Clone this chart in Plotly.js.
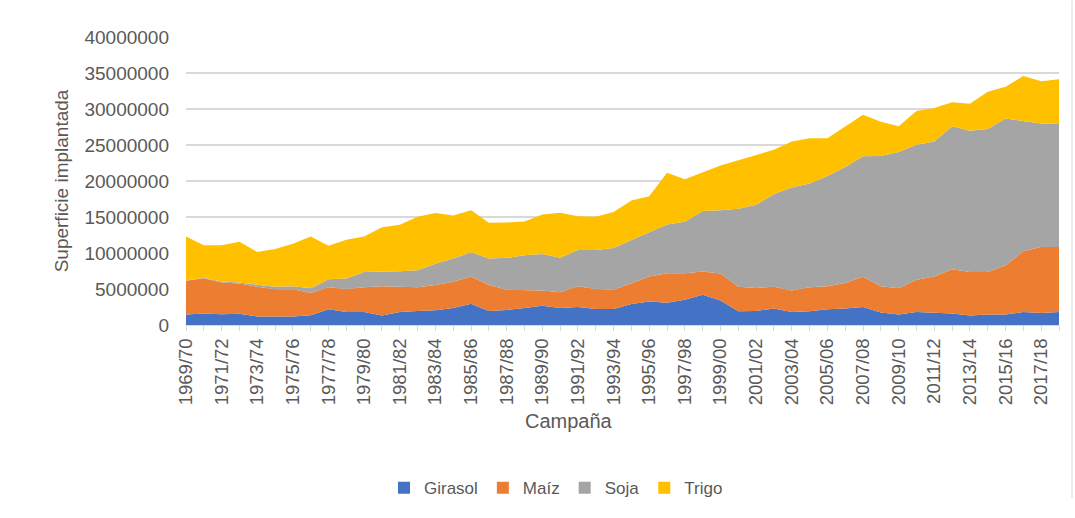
<!DOCTYPE html>
<html>
<head>
<meta charset="utf-8">
<script src="https://cdn.plot.ly/plotly-3.0.1.min.js"></script>
<style>
html,body{margin:0;padding:0;background:#fff;}
#chart{width:1075px;height:518px;}
</style>
</head>
<body>
<div id="chart"></div>
<script>
// Campañas 1969/70 – 2018/19
const campanas = [];
for (let y = 1969; y <= 2018; y++) {
  campanas.push(y + "/" + String((y + 1) % 100).padStart(2, "0"));
}

// Superficie implantada (ha), valores estimados del gráfico
const girasol = [1460000,1590000,1500000,1550000,1180000,1150000,1180000,1370000,2180000,1820000,
                 1820000,1320000,1820000,1960000,2050000,2370000,2960000,1960000,2090000,2370000,
                 2690000,2370000,2500000,2230000,2230000,2900000,3280000,3100000,3500000,4190000,
                 3410000,1910000,1960000,2280000,1820000,1910000,2180000,2280000,2500000,1730000,
                 1460000,1820000,1680000,1590000,1320000,1460000,1460000,1820000,1680000,1820000];
const maiz    = [4680000,4920000,4420000,4230000,4140000,3810000,3780000,3090000,3050000,3180000,
                 3410000,4050000,3500000,3270000,3500000,3630000,3770000,3590000,2820000,2500000,
                 2090000,2180000,2870000,2770000,2680000,2900000,3450000,4090000,3690000,3230000,
                 3730000,3410000,3180000,3040000,2960000,3320000,3190000,3550000,4190000,3640000,
                 3640000,4460000,5050000,6150000,6050000,5910000,6820000,8420000,9150000,9010000];
const soja    = [30000,40000,130000,140000,280000,360000,410000,640000,1140000,1460000,
                 2140000,2000000,2140000,2370000,2960000,3240000,3370000,3690000,4420000,4820000,
                 5090000,4780000,5050000,5420000,5780000,6000000,6100000,6780000,7140000,8420000,
                 8790000,10840000,11560000,12880000,14330000,14430000,15340000,16110000,16750000,18110000,
                 18930000,18750000,18760000,19880000,19620000,19840000,20390000,18060000,17160000,17070000];
const trigo   = [6120000,4510000,5010000,5640000,4550000,5240000,5920000,7190000,4640000,5370000,
                 4920000,6190000,6460000,7420000,7050000,5960000,5830000,4960000,4910000,4690000,
                 5460000,6270000,4690000,4600000,5010000,5490000,5050000,7190000,5920000,5410000,
                 6230000,6730000,6960000,6140000,6380000,6280000,5230000,5600000,5770000,4740000,
                 3590000,4690000,4640000,3330000,3730000,5190000,4410000,6280000,5870000,6230000];

const seriesNames  = ["Girasol", "Maíz", "Soja", "Trigo"];
const seriesValues = [girasol, maiz, soja, trigo];
const seriesColors = ["#4472C4", "#ED7D31", "#A5A5A5", "#FFC000"];

const xIdx = campanas.map((c, i) => i);
const tickIdx = xIdx.filter(i => i % 2 === 0);
const tickTxt = tickIdx.map(i => campanas[i]);

const traces = seriesNames.map((n, k) => ({
  type: "scatter",
  mode: "lines",
  name: n,
  x: xIdx,
  y: seriesValues[k],
  customdata: campanas,
  hovertemplate: "%{customdata}: %{y}<extra>" + n + "</extra>",
  stackgroup: "one",
  line: {width: 0, color: seriesColors[k]},
  fillcolor: seriesColors[k],
  showlegend: false
}));
// legend entries with square keys, as in the original
seriesNames.forEach((n, k) => traces.push({
  type: "scatter", mode: "markers", name: n, x: [null], y: [null],
  marker: {symbol: "square", size: 12, color: seriesColors[k]},
  showlegend: true, hoverinfo: "skip"
}));

const font = "Liberation Sans, Arial, sans-serif";
const layout = {
  width: 1075, height: 518,
  margin: {l: 186, r: 16, t: 37, b: 188},
  paper_bgcolor: "#fff", plot_bgcolor: "#fff",
  font: {family: font, color: "#595959", size: 16},
  showlegend: true,
  legend: {orientation: "h", x: (556 - 186) / 873, xanchor: "center", y: -0.567, yanchor: "middle",
           font: {size: 17, color: "#595959"}, itemwidth: 30, traceorder: "normal"},
  xaxis: {
    range: [0, 49], tickmode: "array", tickvals: tickIdx, ticktext: tickTxt,
    tickangle: -90, showgrid: false, zeroline: false,
    showline: true, linecolor: "#d9d9d9", linewidth: 1,
    ticks: "outside", ticklen: 5, tickcolor: "#d9d9d9",
    minor: {dtick: 1, ticks: "outside", ticklen: 5, tickcolor: "#d9d9d9", showgrid: false},
    tickfont: {size: 18.5, color: "#595959"},
    automargin: false, fixedrange: true
  },
  yaxis: {
    range: [0, 40000000], dtick: 5000000, tickformat: "d",
    showgrid: true, gridcolor: "#d9d9d9", gridwidth: 1.5, zeroline: false,
    showline: false, ticks: "", ticklabelstandoff: 16,
    tickfont: {size: 19, color: "#595959"},
    title: {text: "Superficie implantada", font: {size: 19, color: "#595959"}, standoff: 10},
    automargin: false, fixedrange: true
  },
  annotations: [
    {text: "Campaña", xref: "paper", yref: "paper", x: (569 - 186) / 873, y: -(428 - 330) / 293,
     xanchor: "center", yanchor: "middle", showarrow: false, font: {size: 20, color: "#595959"}}
  ],
  shapes: [
    {type: "line", xref: "paper", yref: "paper", x0: (1072 - 186) / 873, x1: (1072 - 186) / 873,
     y0: 1 + 37 / 293, y1: -(506 - 330) / 293, line: {color: "#d9d9d9", width: 1}}
  ]
};

Plotly.newPlot("chart", traces, layout, {displayModeBar: false, staticPlot: true});
</script>
</body>
</html>
